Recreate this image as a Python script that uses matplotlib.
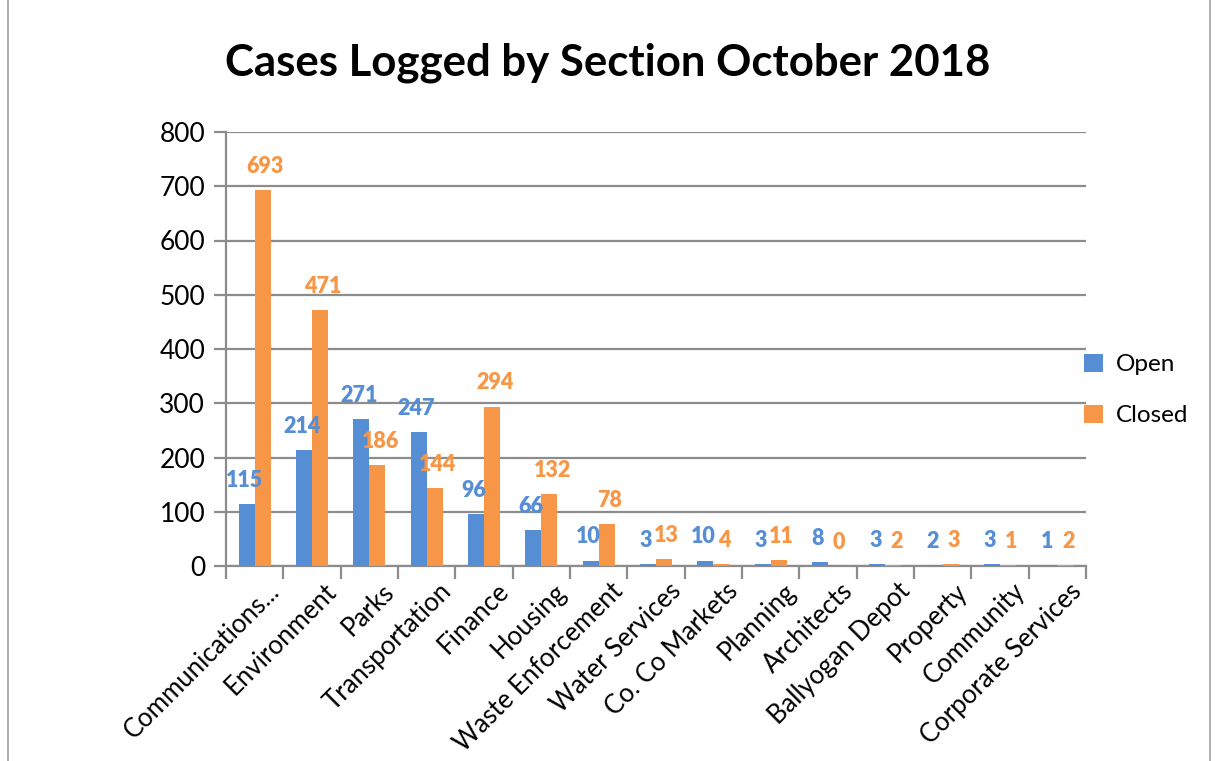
import numpy as np
import matplotlib
matplotlib.use("Agg")
import matplotlib.pyplot as plt
from matplotlib.patches import Rectangle
import matplotlib.transforms as mtransforms

plt.rcParams['font.family'] = ['Lato', 'DejaVu Sans']

sections = ["Communications...", "Environment", "Parks", "Transportation", "Finance",
            "Housing", "Waste Enforcement", "Water Services", "Co. Co Markets", "Planning",
            "Architects", "Ballyogan Depot", "Property", "Community", "Corporate Services"]
open_cases = [115, 214, 271, 247, 96, 66, 10, 3, 10, 3, 8, 3, 2, 3, 1]
closed_cases = [693, 471, 186, 144, 294, 132, 78, 13, 4, 11, 0, 2, 3, 1, 2]
yticks = [0, 100, 200, 300, 400, 500, 600, 700, 800]

blue = '#558ED5'
orange = '#F79646'
grey = '#8C8C8C'

fig = plt.figure(figsize=(12.16, 7.61), dpi=100)
ax = fig.add_axes([226 / 1216, 1 - 566 / 761, 860 / 1216, 434 / 761])

x = np.arange(len(sections))
w = 0.28
b1 = ax.bar(x - w / 2, open_cases, w, color=blue, label='Open', zorder=3)
b2 = ax.bar(x + w / 2, closed_cases, w, color=orange, label='Closed', zorder=3)

for bars, vals, col, dx in [(b1, open_cases, blue, -1.5), (b2, closed_cases, orange, 2)]:
    for r, v in zip(bars, vals):
        ax.annotate(str(v), (r.get_x() + r.get_width() / 2, v), xytext=(dx, 17),
                    textcoords='offset points', ha='center', va='center',
                    fontsize=15.5, fontweight='heavy', color=col, zorder=4)

ax.set_xlim(-0.5, len(sections) - 0.5)
ax.set_ylim(0, 800)
ax.set_yticks(yticks)
ax.set_yticklabels([str(t) for t in yticks], fontsize=19)
ax.yaxis.grid(True, color=grey, linewidth=1.6, zorder=0)
ax.tick_params(axis='y', length=9, width=1.6, color=grey, pad=6)

ax.set_xticks(x)
ax.set_xticklabels(sections, rotation=45, ha='right', rotation_mode='anchor', fontsize=18.5)
ax.set_xticks(np.arange(len(sections) + 1) - 0.5, minor=True)
ax.tick_params(axis='x', which='major', length=0, pad=9)
ax.tick_params(axis='x', which='minor', length=9, width=1.6, color=grey)
offset = mtransforms.ScaledTranslation(12 / 100, 0, fig.dpi_scale_trans)
for lbl in ax.get_xticklabels():
    lbl.set_transform(lbl.get_transform() + offset)

for s in ['top', 'right']:
    ax.spines[s].set_visible(False)
for s in ['left', 'bottom']:
    ax.spines[s].set_color(grey)
    ax.spines[s].set_linewidth(1.6)

fig.text(0.5, 1 - 63 / 761, "Cases Logged by Section October 2018", ha='center', va='center',
         fontsize=31.5, fontweight='bold')

fig.legend(handles=[b1, b2], loc='center left', bbox_to_anchor=(1062 / 1216, 1 - 390 / 761),
           frameon=False, fontsize=17.5, handlelength=0.8, handleheight=0.8,
           handletextpad=0.5, labelspacing=1.2)

fig.patches.append(Rectangle((8 / 1216, -0.01), 1202 / 1216, 1.02, transform=fig.transFigure,
                             fill=False, edgecolor='#A0A0A0', linewidth=1.2))

fig.savefig('out.png', dpi=100)
